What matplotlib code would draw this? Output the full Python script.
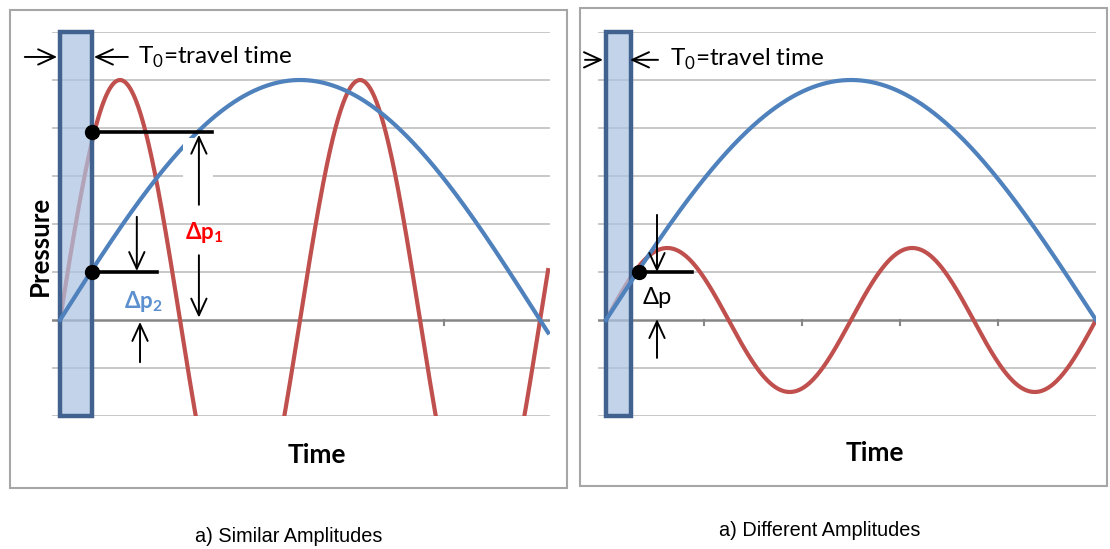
import numpy as np
import matplotlib.pyplot as plt
from matplotlib.patches import Rectangle

plt.rcParams['font.family'] = ['Lato', 'DejaVu Sans']
plt.rcParams['mathtext.fontset'] = 'custom'
plt.rcParams['mathtext.rm'] = 'Lato'
plt.rcParams['mathtext.bf'] = 'Lato:bold'

W, H = 1110, 549  # canvas in pixels

# time is in units of the travel time T0 (bar width = 1)
grid_levels = [-2, -1, 1, 2, 3, 4, 5, 6]

# a) similar amplitudes
left_t_end = 15.25
left_blue_amp, left_blue_half = 5.0, 15.0
left_red_amp, left_red_period = 5.0, 7.5
left_dp1 = 3.92
left_dp2 = 1.0
left_ticks = [12.0]

# b) different amplitudes
right_t_end = 19.6
right_blue_amp, right_blue_half = 5.0, 19.6
right_red_amp, right_red_period = 1.5, 9.8
right_dot_t, right_dot_p = 1.32, 1.0
right_ticks = [3.92, 7.84, 11.76, 15.68]

BLUE = '#4f81bd'
RED = '#c0504d'
BAR_FACE = (0.68, 0.77, 0.89, 0.72)
BAR_EDGE = '#41618f'
GRID = '#bfbfbf'
AXIS = '#868686'

arrow = dict(arrowstyle='->,head_length=1.2,head_width=0.55', lw=1.4,
             color='black', shrinkA=0, shrinkB=0)


def px_axes(fig, x0, y0, x1, y1):
    return fig.add_axes([x0 / W, 1 - y1 / H, (x1 - x0) / W, (y1 - y0) / H])


def draw_frame(ax, ticks):
    for lev in grid_levels:
        ax.axhline(lev, color=GRID, lw=1.2, zorder=0)
    ax.axhline(0, color=AXIS, lw=1.8, zorder=0)
    for tk in ticks:
        ax.plot([tk, tk], [0, -0.11], color=AXIS, lw=1.5, zorder=0)
    ax.add_patch(Rectangle((0, -2), 1, 8, facecolor=BAR_FACE, edgecolor=BAR_EDGE,
                           lw=3.2, zorder=3, clip_on=False))
    ax.set_ylim(-2, 6)
    ax.axis('off')


def arr(ax, tip, tail):
    ax.annotate('', xy=tip, xytext=tail, arrowprops=arrow,
                annotation_clip=False, zorder=6)


fig = plt.figure(figsize=(W / 100, H / 100), dpi=100)

for x0, y0, x1, y1 in [(10, 10, 567, 488), (580, 8, 1107, 486)]:
    fig.add_artist(Rectangle((x0 / W, 1 - y1 / H), (x1 - x0) / W, (y1 - y0) / H,
                             transform=fig.transFigure, fill=False,
                             edgecolor='#a6a6a6', lw=1.5))

# ---- left panel ----
ax = px_axes(fig, 52, 32, 550, 416)
ax.set_xlim(-0.25, 15.31)
draw_frame(ax, left_ticks)
t = np.linspace(0, left_t_end, 600)
ax.plot(t, left_red_amp * np.sin(2 * np.pi * t / left_red_period), color=RED, lw=3, zorder=2)
ax.plot(t, left_blue_amp * np.sin(np.pi * t / left_blue_half), color=BLUE, lw=3, zorder=4)
ax.add_patch(Rectangle((3.84, 2.4), 0.94, 1.4, facecolor='white', edgecolor='none', zorder=4.5))

ax.plot([1.0, 4.75], [left_dp1, left_dp1], color='black', lw=2.6, zorder=5)
ax.plot([1.0, 3.03], [left_dp2, left_dp2], color='black', lw=2.6, zorder=5)
ax.plot([1.0, 1.0], [left_dp1, left_dp2], 'o', color='black', ms=10, zorder=7, clip_on=False)

arr(ax, (4.34, 3.86), (4.34, 2.4))
arr(ax, (4.34, 0.05), (4.34, 1.35))
ax.text(4.5, 1.83, r'Δp$_\mathbf{1}$', color='#ff0000', fontsize=16, fontweight='bold',
        ha='center', va='center', zorder=6)
arr(ax, (2.4, 1.02), (2.4, 2.15))
arr(ax, (2.5, -0.04), (2.5, -0.88))
ax.text(2.6, 0.38, r'Δp$_\mathbf{2}$', color='#5b8fd0', fontsize=16, fontweight='bold',
        ha='center', va='center', zorder=6)

arr(ax, (-0.09, 5.48), (-1.1, 5.48))
arr(ax, (1.06, 5.48), (2.12, 5.48))
ax.text(2.44, 5.48, r'T$_0$=travel time', fontsize=17.5, ha='left', va='center', zorder=6)

# ---- right panel ----
ax = px_axes(fig, 598, 32, 1096, 416)
ax.set_xlim(-0.32, 19.6)
draw_frame(ax, right_ticks)
t = np.linspace(0, right_t_end, 600)
ax.plot(t, right_red_amp * np.sin(2 * np.pi * t / right_red_period), color=RED, lw=3, zorder=2)
ax.plot(t, right_blue_amp * np.sin(np.pi * t / right_blue_half), color=BLUE, lw=3, zorder=4)

ax.plot([right_dot_t, 3.44], [right_dot_p, right_dot_p], color='black', lw=2.6, zorder=5)
ax.plot([right_dot_t], [right_dot_p], 'o', color='black', ms=10, zorder=7)
arr(ax, (2.04, 1.0), (2.04, 2.19))
arr(ax, (2.04, 0.02), (2.04, -0.79))
ax.text(2.04, 0.46, 'Δp', fontsize=17, ha='center', va='center', zorder=6)

arr(ax, (-0.12, 5.42), (-0.84, 5.42))
arr(ax, (0.96, 5.42), (2.08, 5.42))
ax.text(2.56, 5.42, r'T$_0$=travel time', fontsize=17.5, ha='left', va='center', zorder=6)

# ---- labels ----
fig.text(40 / W, 1 - 246 / H, 'Pressure', rotation=90, fontsize=18.5, fontweight='bold',
         ha='center', va='center')
fig.text(317 / W, 1 - 455 / H, 'Time', fontsize=19, fontweight='bold', ha='center', va='center')
fig.text(875 / W, 1 - 453 / H, 'Time', fontsize=19, fontweight='bold', ha='center', va='center')
fig.text(289 / W, 1 - 537 / H, 'a) Similar Amplitudes', fontsize=14.3,
         family='Liberation Sans', ha='center', va='center')
fig.text(820 / W, 1 - 530 / H, 'a) Different Amplitudes', fontsize=14.3,
         family='Liberation Sans', ha='center', va='center')

fig.savefig('out.png', dpi=100)
plt.close(fig)
